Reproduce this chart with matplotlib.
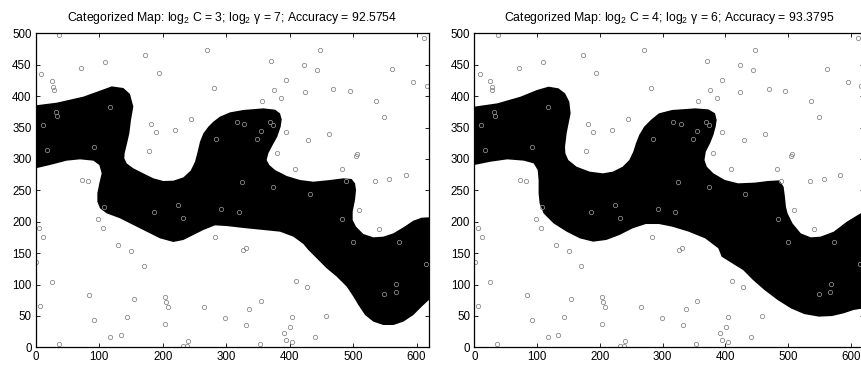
import matplotlib
matplotlib.use("Agg")
import matplotlib.pyplot as plt

plt.rcParams['font.family'] = ['Liberation Sans', 'DejaVu Sans']
plt.rcParams['mathtext.fontset'] = 'custom'
plt.rcParams['mathtext.rm'] = 'Liberation Sans'
plt.rcParams['mathtext.it'] = 'Liberation Sans:italic'

titles = [
    r'Categorized Map: log$_2$ C = 3; log$_2$ γ = 7; Accuracy = 92.5754',
    r'Categorized Map: log$_2$ C = 4; log$_2$ γ = 6; Accuracy = 93.3795',
]

# sample points (same data set in both panels)
pts_x = [37.2, 8.9, 71.4, 109.7, 172.7, 193.8, 270.3, 280.9, 370.2, 422.6, 447.4, 443.6, 394.8, 375.4,
         386.9, 356.5, 423.7, 468.8, 495.6, 561.3, 594.4, 611.7, 615.9, 536.1, 548.2, 25.7, 28.0, 28.8,
         32.0, 33.1, 116.6, 245.1, 317.1, 328.6,
         11.0, 17.8, 92.3, 181.2, 189.0, 219.4, 178.0, 284.5, 368.6, 373.3, 354.9, 348.6, 393.8, 429.0,
         462.5, 380.1, 408.5, 482.0, 506.6, 504.6, 488.3, 534.5, 557.0, 582.8, 73.4, 81.9, 325.0, 374.3,
         431.6, 108.1, 186.4, 224.2, 231.6, 292.4, 320.3, 509.3, 483.0, 540.3, 499.4, 572.3, 97.6, 106.0,
         5.2, 11.5, 283.0, 130.1, 150.1, 326.6, 330.8,
         1.0, 25.7, 6.3, 36.7, 83.5, 92.3, 117.0, 133.9, 143.3, 154.4, 170.6, 203.7, 205.3, 208.4, 203.7,
         231.6, 239.9, 237.9, 265.6, 298.2, 331.8, 336.5, 355.4, 352.9, 391.2, 394.4, 400.1, 403.3, 403.3,
         410.1, 427.9, 440.0, 457.8, 548.2, 567.6, 567.1, 614.8]
pts_y = [497.3, 435.2, 444.3, 454.8, 465.4, 436.8, 473.4, 412.9, 456.4, 449.0, 473.9, 442.0, 425.2, 410.2,
         396.5, 392.7, 406.5, 411.8, 408.6, 443.2, 422.9, 492.0, 415.6, 391.7, 366.2, 423.6, 414.5, 409.2,
         374.2, 368.3, 383.1, 363.0, 359.2, 355.6,
         354.0, 314.6, 318.5, 355.6, 342.4, 346.0, 312.6, 332.2, 358.3, 353.5, 344.4, 331.2, 342.4, 330.1,
         339.2, 309.4, 283.4, 284.4, 308.3, 304.6, 265.3, 265.3, 267.5, 274.4, 265.9, 265.3, 262.7, 255.7,
         243.6, 223.9, 215.9, 226.6, 205.9, 220.7, 215.9, 218.2, 203.8, 187.9, 168.2, 168.2, 204.3, 190.0,
         189.5, 175.2, 175.2, 162.4, 153.3, 154.9, 158.1,
         135.8, 103.5, 65.8, 5.7, 83.8, 44.0, 16.9, 19.1, 48.7, 76.4, 129.5, 80.6, 71.7, 64.6, 37.1,
         2.5, 9.6, 1.6, 64.6, 46.7, 35.0, 61.0, 73.7, 4.8, 23.2, 11.1, 31.8, 48.7, 8.4,
         105.6, 96.5, 15.9, 50.3, 84.4, 100.3, 88.1, 132.2]

# class-region outline, panel 1 (upper edge left->right, then lower edge right->left)
upper1_x = [0, 33.0, 75.0, 101.3, 119.7, 138.0, 148.5, 153.8, 150.1, 147.5, 143.3, 140.1, 139.6, 143.3,
            153.8, 169.5, 185.3, 201.1, 216.8, 232.6, 244.1, 251.0, 255.1, 258.8, 264.1, 272.0, 279.8,
            290.3, 306.1, 327.1, 358.6, 377.0, 384.8, 387.5, 385.9, 380.6, 373.3, 366.5, 363.8, 368.0,
            377.0, 395.4, 416.4, 437.4, 463.6, 484.6, 497.7, 503.0, 504.6, 503.0, 499.3, 499.3, 504.6,
            516.1, 531.9, 547.6, 563.4, 579.1, 594.9, 608.0, 620]
upper1_y = [385.3, 389.5, 399.1, 408.7, 415.5, 412.9, 403.4, 383.2, 361.9, 340.7, 322.1, 308.9, 300.9,
            292.9, 285.0, 277.0, 269.1, 264.8, 265.3, 270.6, 281.3, 295.6, 311.5, 327.4, 340.7, 351.3,
            359.3, 367.3, 374.1, 377.9, 380.5, 378.4, 372.6, 363.0, 351.3, 335.4, 322.1, 308.9, 298.2,
            290.3, 282.3, 272.8, 266.4, 263.7, 266.4, 269.1, 268.0, 261.1, 250.5, 234.6, 216.0, 202.7,
            192.1, 180.4, 175.1, 176.2, 181.5, 191.0, 201.6, 206.4, 207.0]
lower1_x = [0, 22.5, 48.8, 69.8, 90.8, 100.2, 103.9, 100.2, 97.1, 97.1, 101.3, 111.8, 132.8, 153.8,
            174.8, 195.8, 216.8, 232.6, 248.3, 264.1, 282.4, 300.8, 327.1, 358.6, 384.8, 405.8, 421.6,
            429.5, 442.6, 458.3, 474.1, 489.9, 500.4, 508.2, 518.8, 531.9, 547.6, 563.4, 579.1, 594.9,
            608.0, 620]
lower1_y = [285.0, 290.3, 297.2, 299.3, 297.2, 290.3, 277.0, 261.1, 245.2, 231.9, 221.3, 213.3, 205.4,
            194.7, 184.1, 173.5, 167.7, 170.9, 178.8, 186.8, 194.2, 193.1, 190.0, 186.8, 184.1, 176.2,
            164.5, 154.9, 141.7, 125.8, 112.5, 96.6, 80.6, 67.4, 51.4, 40.8, 35.5, 35.5, 40.8, 51.4,
            64.7, 76.0]

# class-region outline, panel 2
upper2_x = [0, 36.8, 73.6, 99.8, 118.2, 134.0, 144.5, 151.3, 153.4, 151.3, 147.1, 144.5, 145.0, 149.7,
            162.8, 183.8, 204.8, 220.6, 236.3, 246.8, 253.2, 257.4, 262.6, 270.5, 281.0, 294.1, 315.1,
            351.9, 372.8, 383.4, 386.0, 384.4, 380.8, 375.5, 368.7, 366.6, 370.3, 380.8, 399.1, 420.1,
            446.4, 467.4, 485.8, 492.6, 494.7, 496.3, 498.9, 506.8, 519.9, 535.7, 551.4, 572.4, 593.4,
            610.8, 620]
upper2_y = [383.2, 388.5, 399.1, 409.7, 415.0, 412.4, 404.4, 391.1, 372.6, 361.9, 340.7, 319.5, 308.9,
            298.2, 287.6, 279.7, 277.0, 279.7, 287.6, 298.2, 311.5, 324.8, 338.1, 351.3, 361.9, 372.6,
            377.9, 380.5, 378.9, 372.6, 361.9, 351.3, 338.1, 324.8, 311.5, 298.2, 287.6, 277.0, 266.4,
            261.1, 262.2, 264.8, 265.9, 255.8, 239.9, 223.9, 213.3, 197.4, 181.5, 175.1, 176.2, 184.1,
            200.1, 210.7, 216.0]
lower2_x = [0, 26.3, 52.6, 78.8, 94.6, 100.9, 102.4, 102.4, 104.0, 110.3, 126.1, 147.1, 168.1, 189.1,
            210.1, 231.1, 252.1, 273.1, 294.1, 315.1, 341.4, 367.6, 388.6, 393.9, 414.9, 428.0, 443.8,
            462.1, 483.1, 504.2, 525.2, 548.8, 569.8, 588.2, 603.9, 610.8, 620]
lower2_y = [290.3, 295.6, 299.3, 297.2, 292.9, 282.3, 266.4, 245.2, 229.2, 213.3, 197.4, 184.1, 173.5,
            168.2, 170.9, 178.8, 189.4, 196.3, 196.3, 192.1, 184.1, 173.5, 157.6, 144.3, 131.1, 123.1,
            107.2, 91.2, 75.3, 62.0, 53.0, 48.8, 49.8, 54.1, 59.4, 60.5, 62.0]

xticks = [0, 100, 200, 300, 400, 500, 600]
yticks = [0, 50, 100, 150, 200, 250, 300, 350, 400, 450, 500]

fig = plt.figure(figsize=(8.62, 3.66), dpi=100)
W, H = 862, 366
ax_h = 314 / H
y0 = (H - 347.3) / H
ax1 = fig.add_axes([35.7 / W, y0, 393.6 / W, ax_h])
ax2 = fig.add_axes([474.3 / W, y0, 389.3 / W, ax_h])

regions = [(upper1_x, upper1_y, lower1_x, lower1_y), (upper2_x, upper2_y, lower2_x, lower2_y)]
for ax, title, (ux, uy, lx, ly) in zip([ax1, ax2], titles, regions):
    px = list(ux) + list(lx[::-1])
    py = list(uy) + list(ly[::-1])
    ax.fill(px, py, color='black', lw=0)
    ax.plot(pts_x, pts_y, 'o', ms=3.1, mfc='none', mec='#8a8a8a', mew=0.6)
    ax.set_xlim(0, 620)
    ax.set_ylim(0, 500)
    ax.set_xticks(xticks)
    ax.set_yticks(yticks)
    ax.tick_params(direction='in', top=True, right=True, length=3, width=0.6, labelsize=8.3, pad=3)
    for s in ax.spines.values():
        s.set_linewidth(0.9)
    ax.set_title(title, fontsize=8.8, pad=9)

fig.savefig('out.png', dpi=100)
